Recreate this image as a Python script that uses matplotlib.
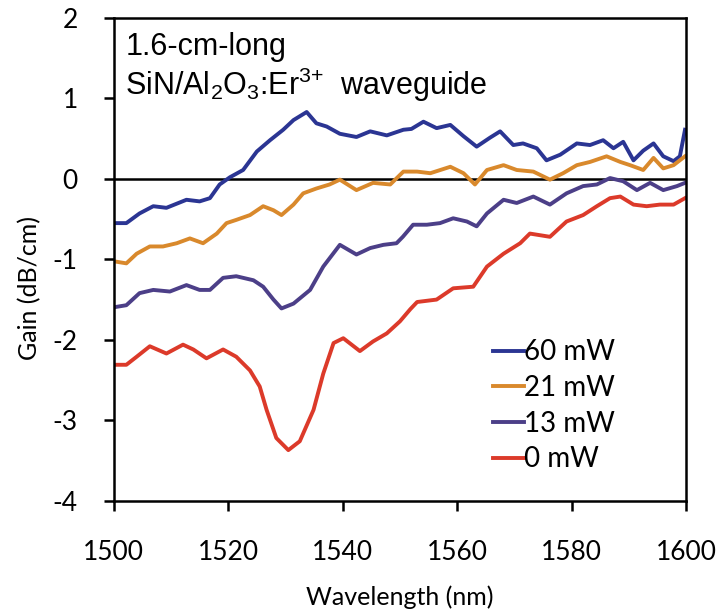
import matplotlib
matplotlib.use("Agg")
import matplotlib.pyplot as plt
from matplotlib.ticker import FuncFormatter

# gain traces (nm, dB/cm)
wl_60 = [1500.5, 1502.2, 1504.5, 1506.9, 1509.2, 1512.7, 1515.0, 1516.8, 1518.5, 1520.3,
         1522.6, 1525.0, 1527.3, 1529.6, 1531.4, 1533.7, 1535.4, 1537.2, 1539.5, 1542.4,
         1544.8, 1547.7, 1550.6, 1552.0, 1554.1, 1556.4, 1558.8, 1561.1, 1563.4, 1565.7,
         1567.5, 1569.8, 1571.5, 1573.9, 1575.6, 1578.0, 1580.9, 1583.2, 1585.5, 1587.3,
         1589.0, 1590.8, 1592.5, 1594.3, 1596.0, 1597.8, 1598.9, 1599.8]
gain_60 = [-0.55, -0.55, -0.43, -0.34, -0.36, -0.26, -0.28, -0.24, -0.07, 0.02,
           0.11, 0.34, 0.48, 0.61, 0.73, 0.83, 0.69, 0.65, 0.56, 0.52,
           0.59, 0.54, 0.61, 0.62, 0.71, 0.63, 0.67, 0.53, 0.40, 0.51,
           0.59, 0.42, 0.44, 0.38, 0.23, 0.30, 0.44, 0.42, 0.48, 0.38,
           0.46, 0.23, 0.35, 0.44, 0.28, 0.22, 0.28, 0.61]

wl_21 = [1500.5, 1502.2, 1504.0, 1506.3, 1508.6, 1511.0, 1513.3, 1515.6, 1518.0, 1519.7,
         1521.4, 1523.8, 1526.1, 1527.9, 1529.3, 1531.4, 1533.1, 1535.4, 1537.7, 1539.5,
         1542.4, 1545.3, 1548.3, 1550.6, 1553.0, 1555.3, 1558.8, 1561.1, 1563.1, 1565.2,
         1568.1, 1570.4, 1573.3, 1576.2, 1578.5, 1580.9, 1583.2, 1586.1, 1588.5, 1590.2,
         1592.5, 1594.3, 1596.0, 1597.8, 1599.8]
gain_21 = [-1.03, -1.05, -0.93, -0.84, -0.84, -0.80, -0.74, -0.80, -0.68, -0.55,
           -0.51, -0.45, -0.34, -0.39, -0.45, -0.32, -0.18, -0.12, -0.07, -0.01,
           -0.14, -0.05, -0.07, 0.09, 0.09, 0.07, 0.15, 0.07, -0.07, 0.11,
           0.17, 0.11, 0.09, -0.01, 0.07, 0.17, 0.21, 0.28, 0.21, 0.17,
           0.11, 0.26, 0.13, 0.17, 0.28]

wl_13 = [1500.5, 1502.2, 1504.5, 1506.9, 1509.8, 1512.7, 1515.0, 1516.8, 1519.1, 1521.4,
         1524.4, 1526.1, 1527.9, 1529.3, 1531.4, 1534.3, 1536.6, 1539.5, 1542.4, 1544.8,
         1547.1, 1549.4, 1550.5, 1552.3, 1554.7, 1557.0, 1559.3, 1561.7, 1563.4, 1565.2,
         1568.1, 1570.4, 1573.3, 1576.2, 1579.1, 1582.0, 1584.4, 1586.7, 1589.0, 1591.4,
         1593.7, 1596.0, 1598.4, 1599.8]
gain_13 = [-1.59, -1.57, -1.42, -1.38, -1.40, -1.32, -1.38, -1.38, -1.23, -1.21,
           -1.26, -1.34, -1.50, -1.61, -1.55, -1.38, -1.09, -0.82, -0.94, -0.86,
           -0.82, -0.80, -0.72, -0.57, -0.57, -0.55, -0.49, -0.53, -0.59, -0.43,
           -0.26, -0.30, -0.22, -0.32, -0.18, -0.09, -0.07, 0.01, -0.03, -0.14,
           -0.05, -0.14, -0.09, -0.05]

wl_0 = [1500.5, 1502.2, 1504.0, 1506.3, 1509.2, 1512.1, 1513.9, 1516.2, 1519.1, 1521.4,
        1523.8, 1525.5, 1526.7, 1528.4, 1530.5, 1532.5, 1534.9, 1536.6, 1538.4, 1540.1,
        1543.0, 1545.3, 1547.7, 1550.0, 1551.8, 1553.0, 1556.4, 1559.3, 1562.8, 1565.2,
        1568.1, 1571.0, 1572.7, 1576.2, 1579.1, 1582.0, 1584.4, 1586.7, 1588.5, 1590.8,
        1593.1, 1595.4, 1597.8, 1599.8]
gain_0 = [-2.31, -2.31, -2.21, -2.08, -2.17, -2.06, -2.12, -2.23, -2.12, -2.21,
          -2.38, -2.58, -2.87, -3.22, -3.37, -3.26, -2.87, -2.42, -2.04, -1.98,
          -2.14, -2.02, -1.92, -1.77, -1.62, -1.53, -1.50, -1.36, -1.34, -1.09,
          -0.93, -0.80, -0.68, -0.72, -0.53, -0.45, -0.34, -0.24, -0.22, -0.32,
          -0.34, -0.32, -0.32, -0.24]

labels = ["60 mW", "21 mW", "13 mW", "0 mW"]
colors = ["#2b3593", "#d9892c", "#4c3f88", "#dc3a2a"]

x_ticks = [1500, 1520, 1540, 1560, 1580, 1600]
y_ticks = [-4, -3, -2, -1, 0, 1, 2]

plt.rcParams["font.family"] = ["Lato", "DejaVu Sans"]
plt.rcParams["mathtext.fontset"] = "custom"
plt.rcParams["mathtext.rm"] = "Liberation Sans"
plt.rcParams["mathtext.it"] = "Liberation Sans"

fig = plt.figure(figsize=(7.2, 6.16), dpi=100)
ax = fig.add_axes([0.158, 0.187, 0.795, 0.784])

series = [(wl_60, gain_60), (wl_21, gain_21), (wl_13, gain_13), (wl_0, gain_0)]
for (wl, g), lab, col in zip(series, labels, colors):
    ax.plot(wl, g, color=col, lw=2.8, label=lab, solid_joinstyle="round")

ax.axhline(0, color="black", lw=1.8, zorder=1)

ax.set_xlim(1500, 1600)
ax.set_ylim(-4, 2)
ax.set_xticks(x_ticks)
ax.set_yticks(y_ticks)
ax.yaxis.set_major_formatter(FuncFormatter(lambda v, p: "%d" % v))
ax.tick_params(direction="out", length=7, width=1.8, labelsize=19)
ax.tick_params(axis="x", pad=21)
ax.tick_params(axis="y", pad=19)
for s in ax.spines.values():
    s.set_linewidth(1.8)

ax.set_xlabel("Wavelength (nm)", fontsize=18, labelpad=15)
ax.set_ylabel("Gain (dB/cm)", fontsize=18)
ax.yaxis.set_label_coords(-0.126, 0.44)

ax.text(0.02, 0.97, "1.6-cm-long", transform=ax.transAxes, fontsize=22,
        family="Liberation Sans", va="top")
ax.text(0.02, 0.9, "SiN/Al$_2$O$_3$:Er$^{3{+}}$  waveguide", transform=ax.transAxes,
        fontsize=22, family="Liberation Sans", va="top")

ax.legend(loc="lower right", bbox_to_anchor=(0.90, 0.03), frameon=False, fontsize=20,
          handlelength=1.1, handletextpad=0.0, labelspacing=0.35, borderpad=0)

fig.savefig("out.png", dpi=100)
